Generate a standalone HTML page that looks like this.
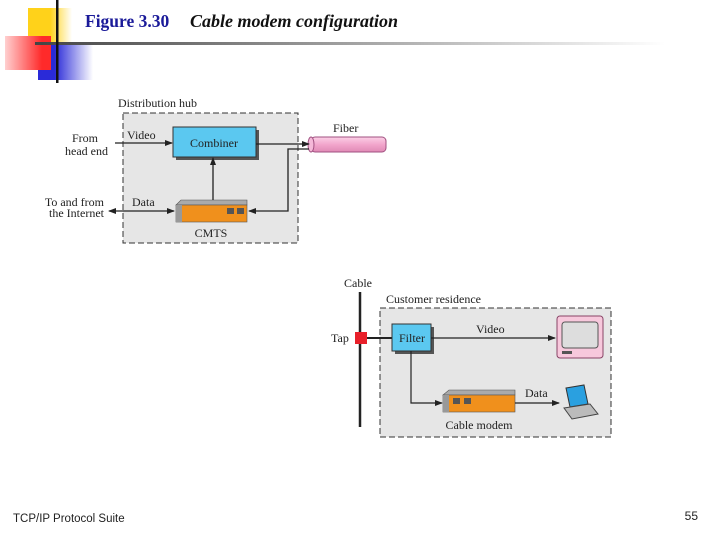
<!DOCTYPE html>
<html><head><meta charset="utf-8"><style>
html,body{margin:0;padding:0;background:#fff;}
svg{display:block;}
.s{font-family:"Liberation Serif",serif;font-size:12px;fill:#222;}
</style></head><body>
<svg width="720" height="540" viewBox="0 0 720 540" xmlns="http://www.w3.org/2000/svg">
<defs>
<linearGradient id="gy" x1="0" x2="1"><stop offset="0.5" stop-color="#ffd21a"/><stop offset="1" stop-color="#fff"/></linearGradient>
<linearGradient id="gr" x1="1" x2="0"><stop offset="0.2" stop-color="#ff2a2a"/><stop offset="1" stop-color="#ffd0d0"/></linearGradient>
<linearGradient id="gb" x1="0" x2="1"><stop offset="0.3" stop-color="#2a2ad8"/><stop offset="1" stop-color="#fff"/></linearGradient>
<linearGradient id="gl" x1="0" x2="1"><stop offset="0" stop-color="#444"/><stop offset="1" stop-color="#fff"/></linearGradient>
<linearGradient id="gf" x1="0" y1="0" x2="0" y2="1"><stop offset="0" stop-color="#fbd0e6"/><stop offset="0.5" stop-color="#f2a6cc"/><stop offset="1" stop-color="#e08ab5"/></linearGradient>
<marker id="a" markerWidth="8" markerHeight="8" refX="7" refY="4" orient="auto-start-reverse" markerUnits="userSpaceOnUse"><path d="M0,1 L8,4 L0,7 Z" fill="#222"/></marker>
</defs>
<rect x="28" y="8" width="44" height="42" fill="url(#gy)"/>
<rect x="38" y="45" width="55" height="35" fill="url(#gb)"/>
<rect x="5" y="36" width="46" height="34" fill="url(#gr)"/>
<rect x="35" y="42" width="630" height="3" fill="url(#gl)"/>
<rect x="56" y="0" width="2.5" height="83" fill="#111"/>
<text x="85" y="27" font-family="Liberation Serif,serif" font-weight="bold" font-size="17.5" fill="#1a1a99">Figure 3.30</text>
<text x="190" y="27" font-family="Liberation Serif,serif" font-weight="bold" font-style="italic" font-size="18" fill="#111">Cable modem configuration</text>

<rect x="123" y="113" width="175" height="130" fill="#e6e6e6" stroke="#333" stroke-dasharray="6,3"/>
<text class="s" x="118" y="107">Distribution hub</text>
<rect x="176" y="130" width="83" height="30" fill="#555"/>
<rect x="173" y="127" width="83" height="30" fill="#5bc8f0" stroke="#333"/>
<text class="s" x="214" y="147" text-anchor="middle">Combiner</text>
<text class="s" x="127" y="139">Video</text>
<line x1="115" y1="143" x2="172" y2="143" stroke="#222" stroke-width="1.3" marker-end="url(#a)"/>
<text class="s" x="98" y="142" text-anchor="end">From</text>
<text class="s" x="108" y="155" text-anchor="end">head end</text>
<rect x="311" y="137" width="75" height="15" rx="4" fill="url(#gf)" stroke="#a05080"/>
<ellipse cx="311" cy="144.5" rx="3" ry="7.5" fill="#f5b8d8" stroke="#a05080"/>
<text class="s" x="333" y="132">Fiber</text>
<line x1="256" y1="144" x2="309" y2="144" stroke="#222" stroke-width="1.3" marker-end="url(#a)"/>
<polyline points="309,149 288,149 288,211 249,211" fill="none" stroke="#222" stroke-width="1.3" marker-end="url(#a)"/>
<polygon points="176,205 181,200 247,200 247,205" fill="#aaa" stroke="#555" stroke-width="0.6"/>
<rect x="176" y="205" width="71" height="17" fill="#f0901c" stroke="#555" stroke-width="0.6"/>
<rect x="176" y="205" width="6" height="17" fill="#999"/>
<rect x="227" y="208" width="7" height="6" fill="#555"/><rect x="237" y="208" width="7" height="6" fill="#555"/>
<line x1="213" y1="200" x2="213" y2="158" stroke="#222" stroke-width="1.3" marker-end="url(#a)"/>
<text class="s" x="132" y="206">Data</text>
<line x1="109" y1="211" x2="174" y2="211" stroke="#222" stroke-width="1.3" marker-end="url(#a)" marker-start="url(#a)"/>
<text class="s" x="104" y="206" text-anchor="end">To and from</text>
<text class="s" x="104" y="217" text-anchor="end">the Internet</text>
<text class="s" x="211" y="237" text-anchor="middle">CMTS</text>

<rect x="380" y="308" width="231" height="129" fill="#e6e6e6" stroke="#333" stroke-dasharray="6,3"/>
<text class="s" x="386" y="303">Customer residence</text>
<line x1="360" y1="292" x2="360" y2="427" stroke="#222" stroke-width="2.5"/>
<text class="s" x="344" y="287">Cable</text>
<line x1="367" y1="338" x2="392" y2="338" stroke="#222" stroke-width="2"/>
<rect x="355" y="332" width="12" height="12" fill="#e8202a"/>
<text class="s" x="331" y="342">Tap</text>
<rect x="395" y="327" width="39" height="27" fill="#555"/>
<rect x="392" y="324" width="39" height="27" fill="#5bc8f0" stroke="#333"/>
<text class="s" x="412" y="342" text-anchor="middle">Filter</text>
<text class="s" x="476" y="333">Video</text>
<line x1="431" y1="338" x2="555" y2="338" stroke="#222" stroke-width="1.2" marker-end="url(#a)"/>
<rect x="557" y="316" width="46" height="42" rx="3" fill="#f7c8dc" stroke="#884466"/>
<rect x="562" y="322" width="36" height="26" rx="3" fill="#ddd" stroke="#555"/>
<rect x="562" y="351" width="10" height="3" fill="#555"/>
<polyline points="411,351 411,403 442,403" fill="none" stroke="#222" stroke-width="1.2" marker-end="url(#a)"/>
<polygon points="443,395 449,390 515,390 515,395" fill="#aaa" stroke="#555" stroke-width="0.6"/>
<rect x="443" y="395" width="72" height="17" fill="#f0901c" stroke="#555" stroke-width="0.6"/>
<rect x="443" y="395" width="6" height="17" fill="#999"/>
<rect x="453" y="398" width="7" height="6" fill="#555"/><rect x="464" y="398" width="7" height="6" fill="#555"/>
<text class="s" x="525" y="397">Data</text>
<line x1="515" y1="403" x2="559" y2="403" stroke="#222" stroke-width="1.2" marker-end="url(#a)"/>
<polygon points="566,388 584,385 588,404 570,407" fill="#2aa0e0" stroke="#333"/>
<polygon points="564,408 590,404 598,414 572,419" fill="#bbb" stroke="#444"/>
<text class="s" x="479" y="429" text-anchor="middle">Cable modem</text>

<text x="13" y="522" font-family="Liberation Sans,sans-serif" font-size="11.5" fill="#222">TCP/IP Protocol Suite</text>
<text x="698" y="520" font-family="Liberation Sans,sans-serif" font-size="12" fill="#222" text-anchor="end">55</text>
</svg>
</body></html>
